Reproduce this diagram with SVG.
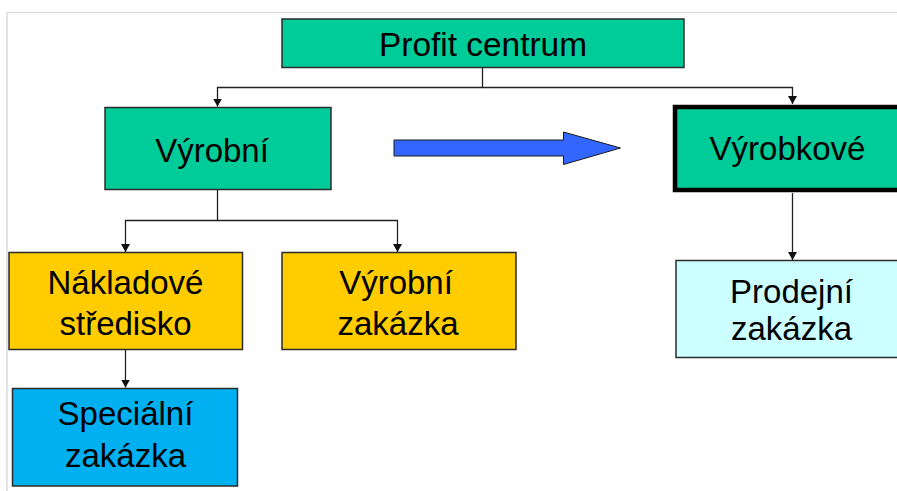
<svg xmlns="http://www.w3.org/2000/svg" width="897" height="491" viewBox="0 0 897 491">
  <style>
    .box { stroke: #2b2b2b; stroke-width: 1.5; }
    .green { fill: #00CC99; }
    .yellow { fill: #FFCC00; }
    .blue { fill: #00B0F0; }
    .pale { fill: #CCFFFF; }
    .label { font-family: "Liberation Sans", Arial, sans-serif; font-size: 33px; fill: #000; text-anchor: middle; }
    .wire { fill: none; stroke: #222; stroke-width: 1.3; }
  </style>
  <defs>
    <marker id="tip" markerWidth="9" markerHeight="10" refX="8" refY="5" orient="auto" markerUnits="userSpaceOnUse">
      <path d="M0,0.5 L8,5 L0,9.5 Z" fill="#111"/>
    </marker>
  </defs>

  <rect width="897" height="491" fill="#fff"/>
  <!-- page frame -->
  <path d="M7,491 V12.5 H897" fill="none" stroke="#dcdcdc" stroke-width="1.5"/>

  <g id="connectors">
    <path class="wire" d="M482.5,67.5 V87.5 H217.5 V106.5" marker-end="url(#tip)"/>
    <path class="wire" d="M482.5,87.5 H792.5 V104" marker-end="url(#tip)"/>
    <path class="wire" d="M217.5,189.5 V220.5 H125.5 V252" marker-end="url(#tip)"/>
    <path class="wire" d="M217.5,220.5 H397.5 V252" marker-end="url(#tip)"/>
    <path class="wire" d="M125.5,349.5 V387.5" marker-end="url(#tip)"/>
    <path class="wire" d="M792.5,193 V260" marker-end="url(#tip)"/>
  </g>

  <g id="profit-centrum">
    <rect class="box green" x="282" y="19" width="402" height="48.5"/>
    <text class="label" x="483" y="55.5" font-size="31" textLength="208" lengthAdjust="spacingAndGlyphs">Profit centrum</text>
  </g>

  <g id="vyrobni">
    <rect class="box green" x="105" y="107.5" width="226" height="82"/>
    <text class="label" x="212" y="161.5">Výrobní</text>
  </g>

  <g id="shift-arrow">
    <path d="M394,140 H563.5 V132 L620.5,148 L563.5,164.5 V156 H394 Z" fill="#3366FF" stroke="#1a1a1a" stroke-width="1"/>
  </g>

  <g id="vyrobkove">
    <rect x="675" y="107" width="230" height="83" fill="#00CC99" stroke="#000" stroke-width="4.5"/>
    <text class="label" x="787.5" y="160">Výrobkové</text>
  </g>

  <g id="nakladove-stredisko">
    <rect class="box yellow" x="9" y="252.5" width="233.5" height="97"/>
    <text class="label" x="125.5" y="293.5">Nákladové</text>
    <text class="label" x="125.5" y="335">středisko</text>
  </g>

  <g id="vyrobni-zakazka">
    <rect class="box yellow" x="282" y="252.5" width="234" height="97"/>
    <text class="label" x="396" y="293.5">Výrobní</text>
    <text class="label" x="398" y="335">zakázka</text>
  </g>

  <g id="prodejni-zakazka">
    <rect class="box pale" x="676" y="260.5" width="231" height="97"/>
    <text class="label" x="791.5" y="303">Prodejní</text>
    <text class="label" x="791.5" y="340">zakázka</text>
  </g>

  <g id="specialni-zakazka">
    <rect class="box blue" x="12.5" y="388.5" width="225" height="97.5"/>
    <text class="label" x="125.5" y="425">Speciální</text>
    <text class="label" x="125.5" y="467">zakázka</text>
  </g>
</svg>
